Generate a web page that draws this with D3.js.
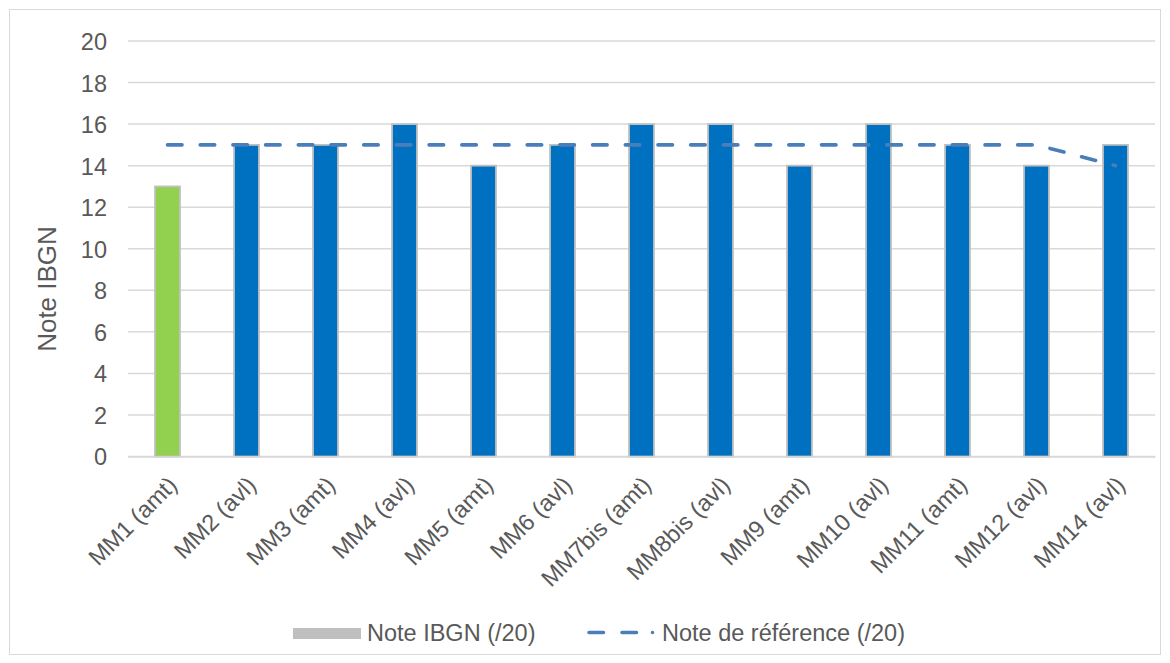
<!DOCTYPE html>
<html><head><meta charset="utf-8">
<script src="https://cdn.jsdelivr.net/npm/d3@7"></script>
<style>body{margin:0;background:#fff;}svg{display:block;font-family:"Liberation Sans",Arial,sans-serif;}</style>
</head><body>
<script>
const categories = ["MM1 (amt)","MM2 (avl)","MM3 (amt)","MM4 (avl)","MM5 (amt)","MM6 (avl)","MM7bis (amt)","MM8bis (avl)","MM9 (amt)","MM10 (avl)","MM11 (amt)","MM12 (avl)","MM14 (avl)"];
const ibgn = [13,15,15,16,14,15,16,16,14,16,15,14,15];
const reference = [15,15,15,15,15,15,15,15,15,15,15,15,14];
const barColors = ["#92D050","#0070C0","#0070C0","#0070C0","#0070C0","#0070C0","#0070C0","#0070C0","#0070C0","#0070C0","#0070C0","#0070C0","#0070C0"];
const yTicks = [0,2,4,6,8,10,12,14,16,18,20];

(function(){
const W=1170,H=663;
const FS=23.5;
const svg=d3.select("body").append("svg").attr("width",W).attr("height",H);
svg.append("rect").attr("x",9.5).attr("y",9.5).attr("width",1151).attr("height",645).attr("fill","#fff").attr("stroke","#d9d9d9");

const pLeft=128,pRight=1155,pTop=41,pBottom=456.5;
const x=d3.scaleBand().domain(categories).range([pLeft,pRight]).paddingInner(0.684).paddingOuter(0.342);
const y=d3.scaleLinear().domain([0,20]).range([pBottom,pTop]);

const grid=svg.append("g");
grid.selectAll("line").data(yTicks).join("line")
 .attr("x1",pLeft).attr("x2",pRight).attr("y1",d=>y(d)).attr("y2",d=>y(d))
 .attr("stroke","#d9d9d9").attr("stroke-width",1.5);

const yAxis=svg.append("g").attr("transform",`translate(${pLeft},0)`)
 .call(d3.axisLeft(y).tickValues(yTicks).tickSize(0).tickPadding(21));
yAxis.select(".domain").remove();
yAxis.selectAll("text").attr("font-size",FS).attr("fill","#595959").attr("font-family","Liberation Sans, Arial, sans-serif").attr("dy","0.36em");

svg.append("text").attr("transform","translate(56,289) rotate(-90)").attr("text-anchor","middle")
 .attr("font-size",26).attr("fill","#595959").text("Note IBGN");

svg.selectAll("rect.bar").data(categories).join("rect").attr("class","bar")
 .attr("x",d=>x(d)).attr("width",x.bandwidth())
 .attr("y",(d,i)=>y(ibgn[i])).attr("height",(d,i)=>y(0)-y(ibgn[i]))
 .attr("fill",(d,i)=>barColors[i]).attr("stroke","#c0c0c0").attr("stroke-width",1.8);

const line=d3.line().x((d,i)=>x(categories[i])+x.bandwidth()/2).y(d=>y(d));
svg.append("path").datum(reference).attr("d",line).attr("fill","none")
 .attr("stroke","#4a7ebb").attr("stroke-width",3.6).attr("stroke-dasharray","14.5,18.2").attr("stroke-linecap","round");

const xAxis=svg.append("g").attr("transform",`translate(0,${pBottom})`)
 .call(d3.axisBottom(x).tickSize(0).tickPadding(0));
xAxis.select(".domain").attr("stroke","#d9d9d9").attr("stroke-width",1.5);
xAxis.selectAll("text").attr("font-size",FS).attr("fill","#595959").attr("font-family","Liberation Sans, Arial, sans-serif")
 .attr("text-anchor","end").attr("y",0).attr("dy",0).attr("transform","translate(11,30) rotate(-45)");

const lg=svg.append("g");
lg.append("rect").attr("x",293).attr("y",628).attr("width",68).attr("height",11).attr("fill","#bfbfbf");
lg.append("text").attr("x",367).attr("y",641).attr("font-size",FS).attr("fill","#595959").text("Note IBGN (/20)");
lg.append("line").attr("x1",589).attr("x2",660).attr("y1",632.5).attr("y2",632.5).attr("stroke","#4a7ebb").attr("stroke-width",3.6)
 .attr("stroke-dasharray","14.5,18.5,14.5,16,0,100").attr("stroke-linecap","round");
lg.append("text").attr("x",662).attr("y",641).attr("font-size",FS).attr("fill","#595959").text("Note de référence (/20)");
})();
</script>
</body></html>
